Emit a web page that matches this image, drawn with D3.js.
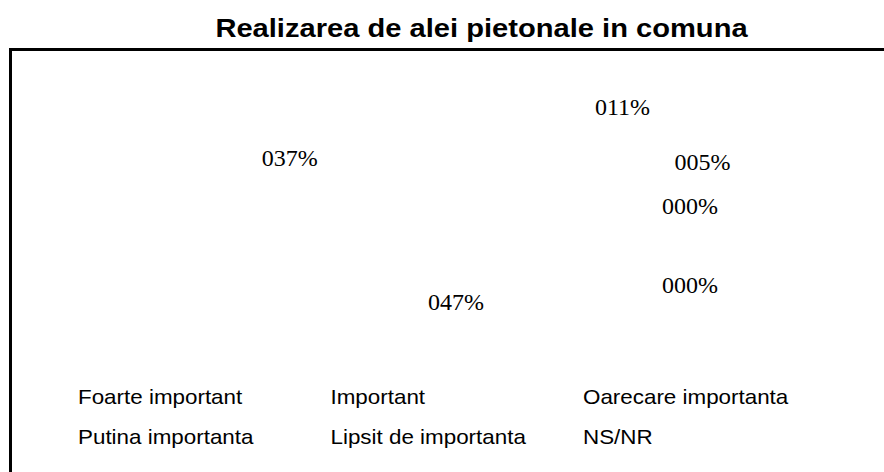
<!DOCTYPE html>
<html>
<head>
<meta charset="utf-8">
<script src="https://cdn.jsdelivr.net/npm/d3@7"></script>
<style>
	body { margin: 0; background: #fff; }
	svg  { display: block; }
</style>
</head>
<body>
<div id="chart"></div>
<script>
// ==================================================
// DATA
// ==================================================

// Categories (legend order)
var categories = ["Foarte important", "Important", "Oarecare importanta",
				  "Putina importanta", "Lipsit de importanta", "NS/NR"];

// Share of answers, percent
var shares = [47, 37, 11, 5, 0, 0];

// Chart title
var title = "Realizarea de alei pietonale in comuna";


// ==================================================
// LAYOUT
// ==================================================

var width  = 884;
var height = 472;

// Pie centre and tilt (slices are drawn white, as in the original)
var pie_cx = 404, pie_cy = 217;
var firstSliceAngle = 75.4;

// Label ellipses: inside for the big slices, outside for the small ones
var inner = { rx: 152, ry: 90 };
var outer = { rx: 340, ry: 137 };

// Labels were dragged by hand in the original
var labelDrag = [[0, 0], [0, 0], [11, -2], [-13, -1], [-43, 23], [-43, 102]];

// Sans text in the original is slightly stretched sideways
var stretch = 1.12;


// ==================================================
// CANVAS
// ==================================================

var svg = d3.select("#chart")
	.append("svg")
		.attr("width",  width)
		.attr("height", height);

svg.append("rect")
	.attr("width",  width)
	.attr("height", height)
	.attr("fill", "#fff");

// Chart area frame (runs off the right and bottom edges)
svg.append("rect")
	.attr("x", 10.5)
	.attr("y", 49.5)
	.attr("width",  width + 40)
	.attr("height", height + 40)
	.attr("fill", "none")
	.attr("stroke", "#000")
	.attr("stroke-width", 3);

// Title
svg.append("text")
	.attr("transform", "translate(481.5, 37) scale(" + stretch + ", 1)")
	.attr("text-anchor", "middle")
	.attr("font-family", "'Liberation Sans', Arial, sans-serif")
	.attr("font-weight", "bold")
	.attr("font-size", "26px")
	.attr("fill", "#000")
	.text(title);


// ==================================================
// PIE
// ==================================================

var rad = Math.PI / 180;

var pie = d3.pie()
	.sort(null)
	.value(function(d) { return d; })
	.startAngle(firstSliceAngle * rad)
	.endAngle(firstSliceAngle * rad + 2 * Math.PI);

var arcs = pie(shares);

var arc = d3.arc()
	.innerRadius(0)
	.outerRadius(inner.rx * 1.3);

var slices = svg.append("g")
	.attr("transform", "translate(" + pie_cx + ", " + pie_cy + ") scale(1, " + (inner.ry / inner.rx) + ")");

slices.selectAll("path")
	.data(arcs)
	.enter()
		.append("path")
			.attr("d", arc)
			.attr("fill", "#fff")
			.attr("stroke", "none");

// Percent labels
var fmt = d3.format("03d");

svg.selectAll(".pct")
	.data(arcs)
	.enter()
		.append("text")
			.attr("class", "pct")
			.attr("x", function(d, i) {
				var mid = (d.startAngle + d.endAngle) / 2;
				var e   = d.data >= 20 ? inner : outer;
				return pie_cx + e.rx * Math.sin(mid) + labelDrag[i][0];
			})
			.attr("y", function(d, i) {
				var mid = (d.startAngle + d.endAngle) / 2;
				var e   = d.data >= 20 ? inner : outer;
				return pie_cy - e.ry * Math.cos(mid) + labelDrag[i][1];
			})
			.attr("dy", ".35em")
			.attr("text-anchor", "middle")
			.attr("font-family", "'Liberation Serif', 'Times New Roman', serif")
			.attr("font-size", "24px")
			.attr("fill", "#000")
			.text(function(d) { return fmt(d.data) + "%"; });


// ==================================================
// LEGEND
// ==================================================

var legendX = d3.scalePoint()
	.domain([0, 1, 2])
	.range([78, 583]);

var legendY = d3.scalePoint()
	.domain([0, 1])
	.range([397, 437]);

var legend = svg.selectAll(".legend")
	.data(categories)
	.enter()
		.append("g")
			.attr("class", "legend")
			.attr("transform", function(d, i) {
				return "translate(" + legendX(i % 3) + ", " + legendY(Math.floor(i / 3)) + ")";
			});

// Keys are white like the slices
legend.append("rect")
	.attr("x", -16)
	.attr("y", -5)
	.attr("width",  10)
	.attr("height", 10)
	.attr("fill", "#fff");

legend.append("text")
	.attr("transform", "scale(" + stretch + ", 1)")
	.attr("dy", ".35em")
	.attr("font-family", "'Liberation Sans', Arial, sans-serif")
	.attr("font-size", "20px")
	.attr("fill", "#000")
	.text(function(d) { return d; });
</script>
</body>
</html>
